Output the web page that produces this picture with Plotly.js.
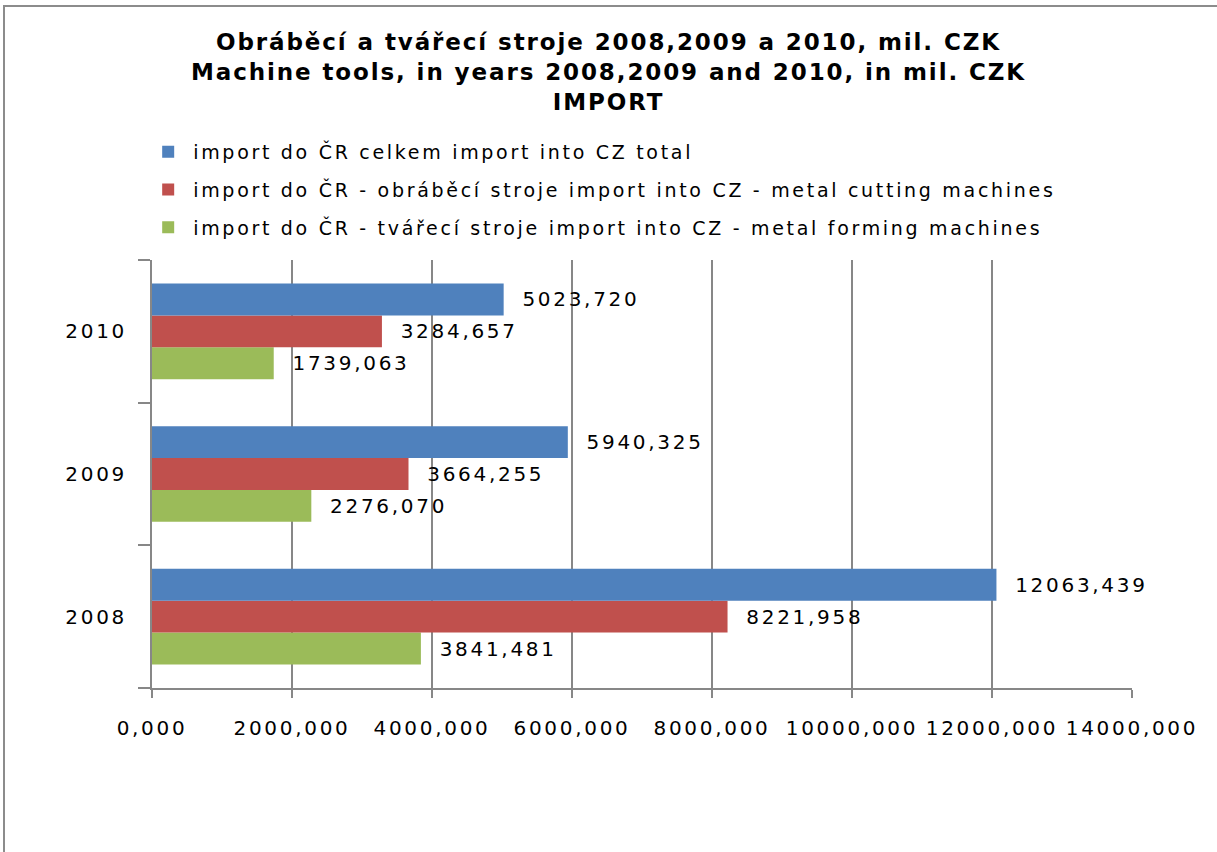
<!DOCTYPE html>
<html>
<head>
<meta charset="utf-8">
<script src="https://cdn.plot.ly/plotly-3.0.1.min.js"></script>
<style>
html, body { margin: 0; padding: 0; overflow: hidden; background: #fff; }
#wrap { position: relative; width: 1217px; height: 852px; }
#chart { width: 1217px; height: 852px; }
#frame { position: absolute; left: 3px; top: 5px; width: 2000px; height: 2000px;
  border-left: 2px solid #8c8c8c; border-top: 2px solid #8c8c8c; pointer-events: none; }
text { letter-spacing: 2.7px; }
text.gtitle { letter-spacing: 1.9px !important; }
</style>
</head>
<body>
<div id="wrap">
  <div id="chart"></div>
  <div id="frame"></div>
</div>
<script>
// ---- data ----
const years = ['2008', '2009', '2010'];
const seriesNames = [
  'import do ČR celkem import into CZ total',
  'import do ČR - obráběcí stroje import into CZ - metal cutting machines',
  'import do ČR - tvářecí stroje import into CZ - metal forming machines'
];
const totalImport   = [12063.439, 5940.325, 5023.720];
const cuttingImport = [8221.958, 3664.255, 3284.657];
const formingImport = [3841.481, 2276.070, 1739.063];
const xTickValues = [0, 2000, 4000, 6000, 8000, 10000, 12000, 14000];
const titleLines = [
  'Obráběcí a tvářecí stroje 2008,2009 a 2010, mil. CZK',
  'Machine tools, in years 2008,2009 and 2010, in mil. CZK',
  'IMPORT'
];

const FONT = 'DejaVu Sans, sans-serif';
const GRID = '#878787';

function barTrace(name, values, color, group, rank) {
  return {
    type: 'bar',
    orientation: 'h',
    name: name,
    legendgroup: group,
    legendrank: rank,
    y: years,
    x: values,
    marker: { color: color, line: { width: 0 } },
    texttemplate: '\u00a0\u2009%{x:.3f}',
    textposition: 'outside',
    textfont: { family: FONT, size: 20, color: '#000' },
    cliponaxis: false,
    constraintext: 'none',
    hoverinfo: 'x+name'
  };
}

// order: first trace is drawn lowest in the group
const data = [
  barTrace(seriesNames[2], formingImport, '#9BBB59', 'c', 3),
  barTrace(seriesNames[1], cuttingImport, '#C0504D', 'b', 2),
  barTrace(seriesNames[0], totalImport, '#4F81BD', 'a', 1)
];

const layout = {
  width: 1217,
  height: 852,
  margin: { l: 152, r: 85, t: 260, b: 164 },
  paper_bgcolor: '#fff',
  plot_bgcolor: '#fff',
  separators: ', ',
  barmode: 'group',
  bargap: 0.33,
  bargroupgap: 0,
  font: { family: FONT, size: 20, color: '#000' },
  title: {
    text: titleLines.join('<br>'),
    font: { family: FONT, size: 23, color: '#000', weight: 'bold' },
    x: 0.5, xanchor: 'center',
    y: 1 - 50 / 852, yanchor: 'top', yref: 'container'
  },
  showlegend: true,
  legend: {
    x: -0.009, xanchor: 'left',
    y: 1.297, yanchor: 'top',
    traceorder: 'grouped',
    tracegroupgap: 10,
    itemwidth: 40,
    font: { family: FONT, size: 19, color: '#000' },
    bgcolor: 'rgba(0,0,0,0)',
    borderwidth: 0
  },
  xaxis: {
    range: [0, 14000],
    tickvals: xTickValues,
    tickformat: '.3f',
    showgrid: true,
    gridcolor: GRID,
    gridwidth: 2,
    zeroline: false,
    showline: true,
    linecolor: GRID,
    linewidth: 2,
    ticks: 'outside',
    ticklen: 8,
    tickwidth: 2,
    tickcolor: GRID,
    ticklabelstandoff: 13,
    tickfont: { family: FONT, size: 20, color: '#000' },
    fixedrange: true
  },
  yaxis: {
    type: 'category',
    categoryorder: 'array',
    categoryarray: years,
    showgrid: false,
    zeroline: false,
    showline: true,
    linecolor: GRID,
    linewidth: 2,
    ticks: 'outside',
    tickson: 'boundaries',
    ticklen: 12,
    tickwidth: 2,
    tickcolor: GRID,
    ticklabelstandoff: 19,
    tickfont: { family: FONT, size: 20, color: '#000' },
    fixedrange: true
  }
};

Plotly.newPlot('chart', data, layout, { displayModeBar: false, staticPlot: true });
</script>
</body>
</html>
